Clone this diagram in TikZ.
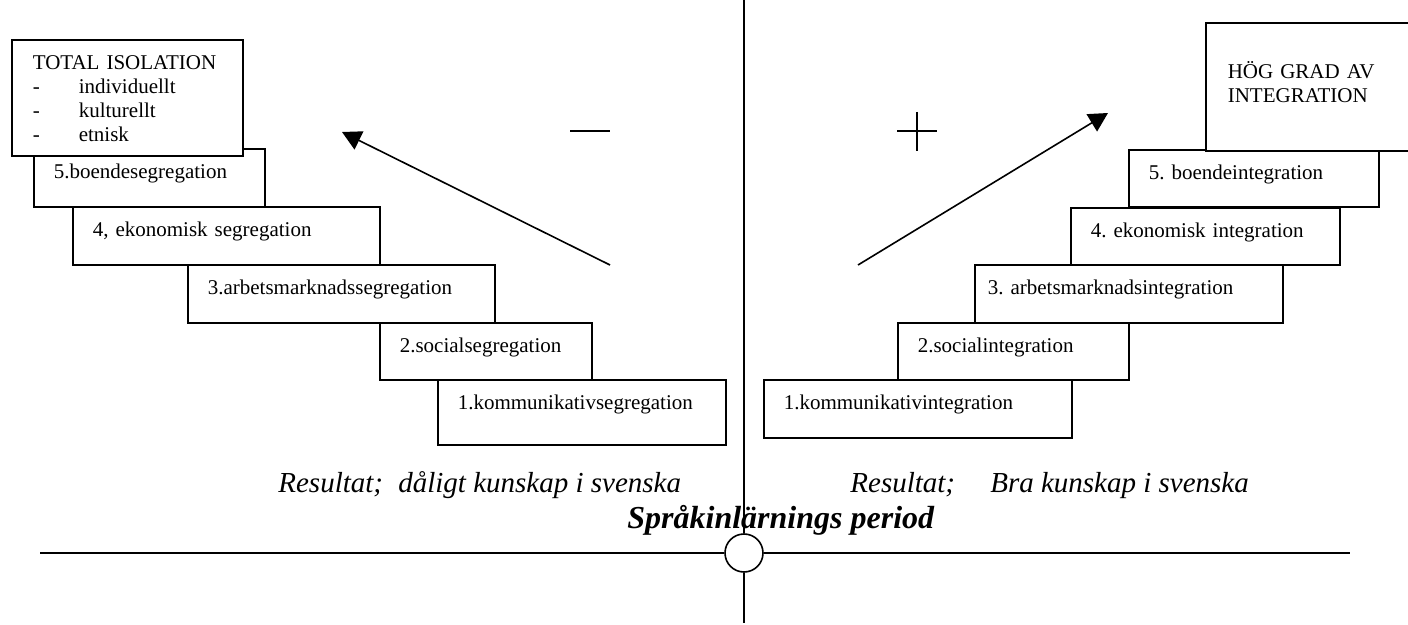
\documentclass[tikz,border=0pt]{standalone}
\usepackage{fontspec}
\setmainfont{Liberation Serif}
\usetikzlibrary{arrows.meta}
\frenchspacing
\tikzset{
  stair/.style={draw, line width=0.8pt, fill=white, anchor=north west, align=left,
    inner xsep=10pt, inner ysep=0pt, text height=15pt, font=\fontsize{10.5}{12}\selectfont},
  result/.style={anchor=base west, inner sep=0pt, font=\fontsize{14.5}{16}\selectfont\itshape},
  pointer/.style={line width=0.8pt, -{Triangle[length=9.5pt,width=10pt]}},
  axis/.style={line width=0.8pt},
}
\begin{document}
\begin{tikzpicture}[x=0.5pt, y=-0.5pt]
  \useasboundingbox (0,0) rectangle (1408,625);
  % axes
  \coordinate (axtop) at (744,0);
  \coordinate (axbot) at (744,623);
  \coordinate (axleft) at (40,553);
  \coordinate (axright) at (1350,553);
  \node[circle, draw, axis, fill=white, minimum size=19pt, inner sep=0pt] (hub) at (744,553) {};
  \begin{scope}[axis]
    \draw (axtop) -- (hub);
    \draw (hub) -- (axbot);
    \draw (axleft) -- (hub);
    \draw (hub) -- (axright);
  \end{scope}
  % left stairs
  \node[stair, text width=124pt, text depth=17.5pt] (l1) at (437,379) {1.kommunikativsegregation};
  \node[stair, text width=86pt, text depth=13.5pt] (l2) at (379,322) {2.socialsegregation};
  \node[stair, text width=133.5pt, text depth=14pt] (l3) at (187,264) {3.arbetsmarknadssegregation};
  \node[stair, text width=133.5pt, text depth=14pt] (l4) at (72,206) {4, ekonomisk segregation};
  \node[stair, text width=95.5pt, text depth=14pt] (l5) at (33,148) {5.boendesegregation};
  \node[stair, inner xsep=10.5pt, text width=94.5pt, text depth=43pt] (isolation) at (11,39)
    {TOTAL ISOLATION\\\makebox[23pt][l]{-}individuellt\\\makebox[23pt][l]{-}kulturellt\\\makebox[23pt][l]{-}etnisk};
  % right stairs
  \node[stair, text width=134pt, text depth=14pt] (r1) at (763,379) {1.kommunikativintegration};
  \node[stair, text width=95.5pt, text depth=13.5pt] (r2) at (897,322) {2.socialintegration};
  \node[stair, inner xsep=6.5pt, text width=141pt, text depth=14pt] (r3) at (974,264) {3. arbetsmarknadsintegration};
  \node[stair, text width=114.5pt, text depth=13.5pt] (r4) at (1070,207) {4. ekonomisk integration};
  \node[stair, text width=105pt, text depth=13.5pt] (r5) at (1128,149) {5. boendeintegration};
  \node[stair, inner xsep=11pt, text width=80pt, text height=28pt, text depth=36pt] (highgrade) at (1205,22)
    {HÖG GRAD AV\\INTEGRATION};
  % arrows
  \coordinate (lstart) at (610,265);
  \coordinate (ltip) at (342,132);
  \coordinate (rstart) at (858,265);
  \coordinate (rtip) at (1108,113);
  \draw[pointer] (lstart) -- (ltip);
  \draw[pointer] (rstart) -- (rtip);
  % signs
  \draw[axis] (570,131) -- (610,131);
  \draw[axis] (897,131) -- (937,131) (917,112) -- (917,151);
  % texts
  \node[result] (badresult) at (278,492) {Resultat;\hspace{7.6pt}dåligt kunskap i svenska};
  \node[result] (goodresult) at (850,492) {Resultat;\hspace{17.6pt}Bra kunskap i svenska};
  \node[anchor=base west, inner sep=0pt, font=\fontsize{16}{18}\selectfont\bfseries\itshape] (period) at (627,528)
    {Språkinlärnings period};
\end{tikzpicture}
\end{document}
